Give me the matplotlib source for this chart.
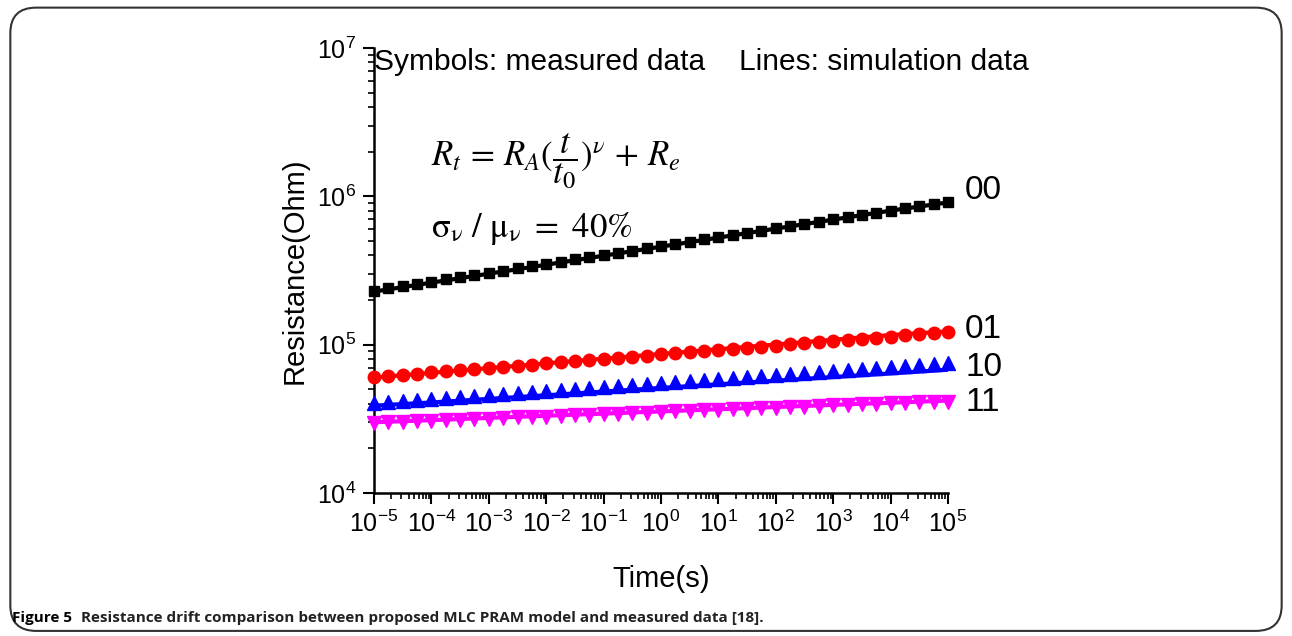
import matplotlib
matplotlib.use("Agg")
import matplotlib.pyplot as plt
from matplotlib.patches import FancyBboxPatch
from matplotlib.ticker import LogLocator, NullFormatter, FixedLocator, FixedFormatter

plt.rcParams['font.family'] = ['Liberation Sans', 'DejaVu Sans']
plt.rcParams['mathtext.fontset'] = 'custom'
plt.rcParams['mathtext.rm'] = 'Liberation Sans'
plt.rcParams['mathtext.it'] = 'Liberation Sans:italic'
plt.rcParams['axes.unicode_minus'] = False

# measured time points, 4 per decade from 1e-5 s to 1e5 s
exponents = [e / 4 for e in range(-20, 21)]
time_s = [10 ** e for e in exponents]

# measured resistance (kOhm) for each state
r00 = [231.7, 239.8, 248.3, 257.0, 266.0, 275.4, 285.0, 295.0, 305.4, 316.1,
       327.2, 338.7, 350.6, 362.9, 375.6, 388.8, 402.5, 416.6, 431.2, 446.4,
       462.0, 478.3, 495.0, 512.4, 530.4, 549.0, 568.3, 588.2, 608.9, 630.3,
       652.4, 675.3, 699.0, 723.5, 748.9, 775.2, 802.4, 830.6, 859.8, 890.0, 921.2]
r01 = [60.6, 61.7, 62.8, 63.9, 65.0, 66.2, 67.3, 68.5, 69.7, 70.9,
       72.2, 73.4, 74.7, 76.0, 77.4, 78.7, 80.1, 81.5, 82.9, 84.4,
       85.9, 87.4, 88.9, 90.5, 92.1, 93.7, 95.3, 97.0, 98.7, 100.4,
       102.2, 104.0, 105.8, 107.7, 109.6, 111.5, 113.4, 115.4, 117.4, 119.5, 121.6]
r10 = [40.4, 41.0, 41.6, 42.3, 42.9, 43.6, 44.3, 45.0, 45.7, 46.4,
       47.1, 47.9, 48.6, 49.4, 50.1, 50.9, 51.7, 52.5, 53.4, 54.2,
       55.1, 55.9, 56.8, 57.7, 58.6, 59.5, 60.5, 61.4, 62.4, 63.4,
       64.4, 65.4, 66.4, 67.5, 68.5, 69.6, 70.7, 71.8, 72.9, 74.1, 75.2]
r11 = [29.6, 29.9, 30.1, 30.4, 30.6, 30.9, 31.2, 31.4, 31.7, 32.0,
       32.3, 32.5, 32.8, 33.1, 33.4, 33.7, 34.0, 34.3, 34.6, 34.9,
       35.2, 35.5, 35.8, 36.1, 36.4, 36.7, 37.0, 37.4, 37.7, 38.0,
       38.3, 38.7, 39.0, 39.3, 39.7, 40.0, 40.3, 40.7, 41.0, 41.3, 41.0]

# simulation (kOhm) at each decade
sim_time = [10 ** e for e in range(-5, 6)]
sim00 = [228.0, 262.0, 301.0, 346.0, 398.0, 458.0, 527.0, 606.0, 697.0, 801.0, 910.0]
sim01 = [60.0, 64.6, 69.5, 74.8, 80.5, 86.6, 93.2, 100.3, 108.0, 116.2, 123.0]
sim10 = [38.8, 40.8, 43.1, 45.6, 48.3, 51.1, 54.1, 57.2, 60.5, 64.0, 67.8]
sim11 = [30.0, 31.0, 32.1, 33.2, 34.3, 35.5, 36.7, 38.0, 39.3, 40.6, 42.0]

x_tick_exp = list(range(-5, 6))
y_tick_exp = [4, 5, 6, 7]

states = ['00', '01', '10', '11']
colors = ['black', 'red', 'blue', 'magenta']
markers = ['s', 'o', '^', 'v']
msizes = [7, 9, 10, 10]
measured = [r00, r01, r10, r11]
simulated = [sim00, sim01, sim10, sim11]
label_y = [1100, 126, 70, 41]

fig = plt.figure(figsize=(12.92, 6.36), dpi=100)
ax = fig.add_axes([0.2895, 0.2248, 0.4442, 0.6997])

for state, c, m, ms, meas, sim, ly in zip(states, colors, markers, msizes,
                                          measured, simulated, label_y):
    ax.plot(sim_time, [v * 1e3 for v in sim], color=c, lw=3, zorder=2)
    ax.plot(time_s, [v * 1e3 for v in meas], ls='none', marker=m, ms=ms,
            color=c, mec=c, zorder=3, clip_on=False)
    ax.text(1.03, ly * 1e3, state, transform=ax.get_yaxis_transform(),
            fontsize=24, va='center', ha='left')

ax.set_xscale('log')
ax.set_yscale('log')
ax.set_xlim(1e-5, 1e5)
ax.set_ylim(1e4, 1e7)
ax.xaxis.set_major_locator(FixedLocator([10.0 ** e for e in x_tick_exp]))
ax.xaxis.set_major_formatter(FixedFormatter([r'$10^{%d}$' % e for e in x_tick_exp]))
ax.yaxis.set_major_locator(FixedLocator([10.0 ** e for e in y_tick_exp]))
ax.yaxis.set_major_formatter(FixedFormatter([r'$10^{%d}$' % e for e in y_tick_exp]))
ax.xaxis.set_minor_locator(LogLocator(base=10, subs=range(2, 10), numticks=200))
ax.xaxis.set_minor_formatter(NullFormatter())
ax.yaxis.set_minor_locator(LogLocator(base=10, subs=range(2, 10), numticks=200))
ax.yaxis.set_minor_formatter(NullFormatter())

for side in ['top', 'right']:
    ax.spines[side].set_visible(False)
for side in ['left', 'bottom']:
    ax.spines[side].set_linewidth(1.8)
ax.tick_params(which='major', length=8, width=1.5, labelsize=18, pad=5)
ax.tick_params(which='minor', length=4, width=1.2)

ax.set_xlabel('Time(s)', fontsize=21, labelpad=20)
ax.set_ylabel('Resistance(Ohm)', fontsize=21, labelpad=6)

ax.text(0.0, 1.0, 'Symbols: measured data', transform=ax.transAxes,
        fontsize=21.5, va='top', ha='left')
ax.text(1.14, 1.0, 'Lines: simulation data', transform=ax.transAxes,
        fontsize=21.5, va='top', ha='right')
ax.text(0.1, 0.745, r'$R_t\,=\,R_A(\dfrac{t}{t_0})^{\nu}\,+\,R_e$',
        transform=ax.transAxes, fontsize=25, va='center', ha='left',
        math_fontfamily='stix')
ax.text(0.1, 0.595, r'$\mathrm{\sigma_{\nu}\ /\ \mu_{\nu}\ =\ 40\%}$',
        transform=ax.transAxes, fontsize=25, va='center', ha='left',
        math_fontfamily='stix')

# rounded frame around figure and caption
frame = FancyBboxPatch((0.008, 0.008), 0.984, 0.98,
                       boxstyle='round,pad=0,rounding_size=0.02',
                       transform=fig.transFigure, fill=False,
                       ec='#333333', lw=1.5, mutation_aspect=2.0)
fig.patches.append(frame)
cap_font = ['Open Sans', 'DejaVu Sans']
fig.text(0.009, 0.028, 'Figure 5', fontsize=11, fontweight='bold',
         family=cap_font, va='center', ha='left')
fig.text(0.0625, 0.028,
         'Resistance drift comparison between proposed MLC PRAM model and measured data [18].',
         fontsize=11, fontweight='bold', family=cap_font,
         va='center', ha='left', color='#222222')

fig.savefig('out.png', dpi=100)
